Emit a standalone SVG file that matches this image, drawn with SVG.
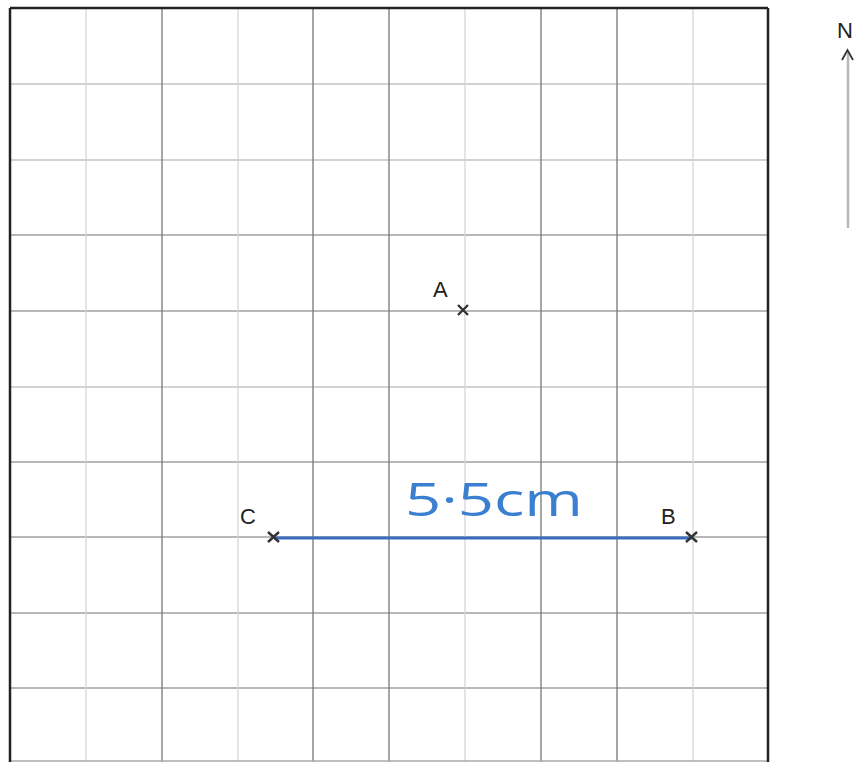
<svg xmlns="http://www.w3.org/2000/svg" width="854" height="763" viewBox="0 0 854 763">
<style>
.gd{stroke:#777;stroke-width:1.3;fill:none}
.gl{stroke:#d2d2da;stroke-width:1.2;fill:none}
.hd{stroke:#a0a0a0;stroke-width:1.3;fill:none}
.hl{stroke:#c4c4c4;stroke-width:1.3;fill:none}
.lbl{font-family:"Liberation Sans",Arial,sans-serif;font-size:22px;fill:#222}
.cross{stroke:#333;stroke-width:2.4;fill:none}
</style>
<rect width="854" height="763" fill="#fff"/>
<g id="grid">
<path class="hl" d="M10 84H768M10 160H768M10 387H768"/>
<path class="hd" d="M10 235H768M10 311H768M10 462H768M10 537H768M10 613H768M10 688H768"/>
<path class="gl" d="M86 8V762M238 8V762M465 8V762M693 8V762"/>
<path class="gd" d="M162 8V762M313 8V762M389 8V762M541 8V762M617 8V762"/>
<path d="M10 761H768" stroke="#aaa" stroke-width="1.5"/>
<path d="M10 8H768M10 8V762M768 8V762" stroke="#222" stroke-width="2.5" fill="none"/>
</g>
<g id="connectors">
<line x1="274" y1="538" x2="692" y2="538" stroke="#3a6cc0" stroke-width="3.2"/>
</g>
<g id="node-A">
<path class="cross" d="M458 305L468 315M468 305L458 315"/>
<text class="lbl" x="433" y="297">A</text>
</g>
<g id="node-C">
<path class="cross" d="M268 532L279 542M279 532L268 542"/>
<text class="lbl" x="240" y="524">C</text>
</g>
<g id="node-B">
<path class="cross" d="M686 532L697 542M697 532L686 542"/>
<text class="lbl" x="661" y="524">B</text>
</g>
<g id="label-length">
<text x="405" y="516" font-family="'Open Sans','Liberation Sans',sans-serif" font-size="46" fill="#3b7fd0" textLength="178" lengthAdjust="spacingAndGlyphs">5·5cm</text>
</g>
<g id="north">
<text x="837" y="38" font-family="'Liberation Sans',Arial,sans-serif" font-size="22" fill="#222">N</text>
<line x1="848" y1="52" x2="848" y2="228" stroke="#b8b8b8" stroke-width="2.5"/>
<path d="M842 60L847.5 50L853 60" stroke="#333" stroke-width="1.8" fill="none"/>
</g>
</svg>
